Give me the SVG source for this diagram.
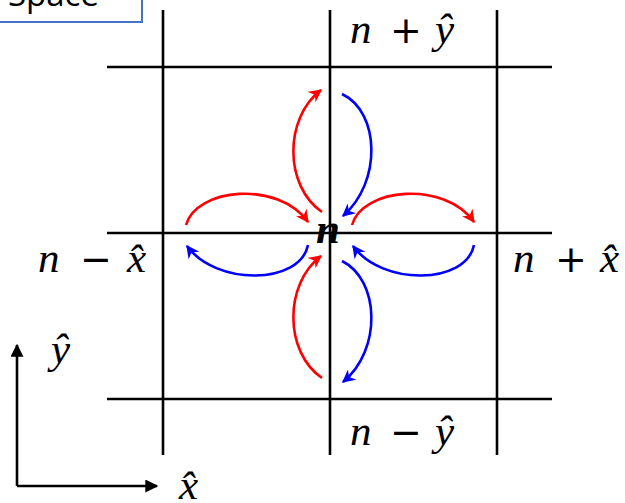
<svg xmlns="http://www.w3.org/2000/svg" width="625" height="503" viewBox="0 0 625 503">
<style>
.grid{stroke:#000;stroke-width:2.6;fill:none}
.red{stroke:#FF0000;stroke-width:2.6;fill:none}
.blue{stroke:#0000FF;stroke-width:2.6;fill:none}
.m{font-family:"Liberation Serif","DejaVu Serif",serif;font-size:43px;font-style:italic;fill:#000}
.op{font-family:"DejaVu Sans","Liberation Sans",sans-serif;font-size:38px;font-style:normal;fill:#000}
.lbl{font-family:"Open Sans","Liberation Sans",sans-serif;font-size:33px;fill:#000}
</style>
<defs>
<marker id="ar" viewBox="0 0 10 10" refX="9" refY="5" markerWidth="5" markerHeight="5" orient="auto" markerUnits="strokeWidth">
<path d="M0,0 L10,5 L0,10 L3,5 Z" fill="#FF0000"/>
</marker>
<marker id="ab" viewBox="0 0 10 10" refX="9" refY="5" markerWidth="5" markerHeight="5" orient="auto" markerUnits="strokeWidth">
<path d="M0,0 L10,5 L0,10 L3,5 Z" fill="#0000FF"/>
</marker>
<marker id="ak" viewBox="0 0 10 10" refX="9" refY="5" markerWidth="5" markerHeight="5" orient="auto" markerUnits="strokeWidth">
<path d="M0,0 L10,5 L0,10 Z" fill="#000"/>
</marker>
</defs>
<rect width="625" height="503" fill="#fff"/>
<g id="space-box">
<rect x="-2" y="-30" width="144" height="52" fill="#fff" stroke="#4472C4" stroke-width="2"/>
<text class="lbl" x="8" y="6">Space</text>
</g>
<g id="grid">
<line class="grid" x1="163" y1="10" x2="163" y2="455"/>
<line class="grid" x1="330" y1="10" x2="330" y2="455"/>
<line class="grid" x1="497" y1="10" x2="497" y2="455"/>
<line class="grid" x1="107" y1="67" x2="552" y2="67"/>
<line class="grid" x1="107" y1="233" x2="552" y2="233"/>
<line class="grid" x1="107" y1="399" x2="552" y2="399"/>
</g>
<g id="connectors">
<path class="red" d="M322,212 C284,186 284,118 321,90" marker-end="url(#ar)"/>
<path class="blue" d="M342,94 C380,112 382,182 343,216" marker-end="url(#ab)"/>
<path class="red" d="M322,378 C284,352 284,284 321,256" marker-end="url(#ar)"/>
<path class="blue" d="M342,261 C380,280 382,350 343,382" marker-end="url(#ab)"/>
<path class="red" d="M186,225 C196,188 278,180 308,222" marker-end="url(#ar)"/>
<path class="blue" d="M308,245 C300,285 216,286 187,246" marker-end="url(#ab)"/>
<path class="red" d="M352,225 C362,188 444,180 474,222" marker-end="url(#ar)"/>
<path class="blue" d="M474,245 C466,285 382,286 353,246" marker-end="url(#ab)"/>
</g>
<g id="node-center">
<text class="m" x="316" y="243" font-weight="bold">n</text>
</g>
<g id="node-up">
<text class="m" x="350" y="43">n</text><text class="op" x="390" y="43">+</text><text class="m" x="435" y="43">ŷ</text>
</g>
<g id="node-down">
<text class="m" x="350" y="445">n</text><text class="op" x="390" y="445">−</text><text class="m" x="435" y="445">ŷ</text>
</g>
<g id="node-left">
<text class="m" x="38" y="272">n</text><text class="op" x="80" y="272">−</text><text class="m" x="127" y="272">x̂</text>
</g>
<g id="node-right">
<text class="m" x="513" y="272">n</text><text class="op" x="555" y="272">+</text><text class="m" x="600" y="272">x̂</text>
</g>
<g id="axes">
<line class="grid" x1="17" y1="486" x2="17" y2="345" marker-end="url(#ak)"/>
<line class="grid" x1="17" y1="486" x2="157" y2="486" marker-end="url(#ak)"/>
<text class="m" x="51" y="363">ŷ</text>
<text class="m" x="179" y="499">x̂</text>
</g>
</svg>
